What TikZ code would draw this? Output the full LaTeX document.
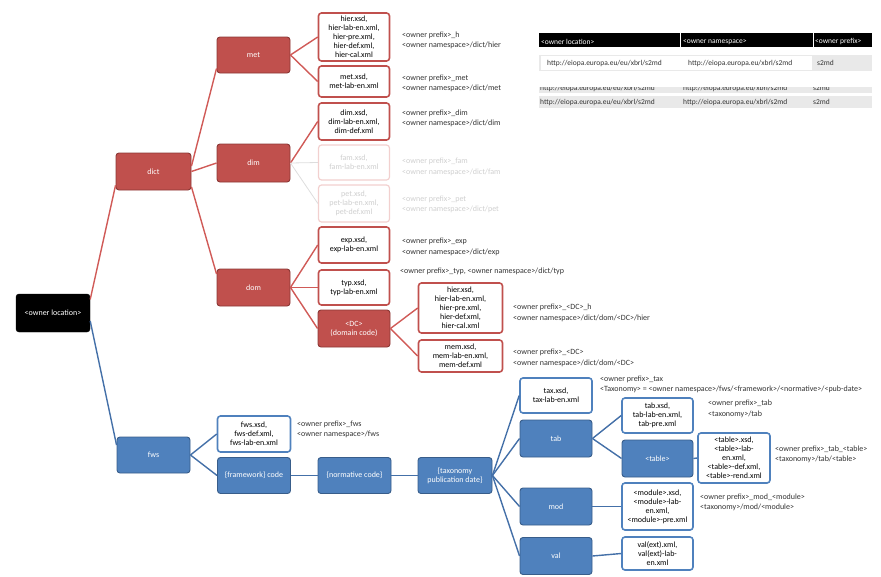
\documentclass[tikz,border=0pt]{standalone}
\usepackage{fontspec}
\setmainfont{Carlito}
\definecolor{rfill}{HTML}{C0504D}
\definecolor{rdraw}{HTML}{8C3836}
\definecolor{rline}{HTML}{D05A57}
\definecolor{bfill}{HTML}{4F81BD}
\definecolor{bdraw}{HTML}{385D8A}
\definecolor{bline}{HTML}{4470A8}
\definecolor{fadeb}{HTML}{F2D0CF}
\definecolor{fadet}{HTML}{CFCFCF}
\definecolor{lbltext}{HTML}{333333}
\definecolor{rowgray}{HTML}{E9E9E9}
\tikzset{
  base/.style={rectangle, rounded corners=3pt, minimum width=73pt, minimum height=36pt,
    inner sep=1pt, align=center, font=\fontsize{8}{9}\selectfont},
  redbox/.style={base, fill=rfill, draw=rdraw, line width=0.9pt, text=white},
  blubox/.style={base, fill=bfill, draw=bdraw, line width=0.9pt, text=white},
  rootbox/.style={base, fill=black, draw=black, text=white},
  wred/.style={base, fill=white, draw=rfill, line width=1.6pt, text=black, minimum width=71pt},
  wblue/.style={base, fill=white, draw=bfill, line width=1.6pt, text=black, minimum width=71pt},
  wfade/.style={base, fill=white, draw=fadeb, line width=1.2pt, text=fadet, minimum width=71pt},
  lbl/.style={anchor=west, align=left, inner sep=0pt, text=lbltext, font=\fontsize{8}{10.5}\selectfont},
  lblfade/.style={lbl, text=fadet},
  rl/.style={draw=rline, line width=1.4pt},
  bl/.style={draw=bline, line width=1.4pt},
  fl/.style={draw=fadet!70, line width=0.8pt},
  tbl/.style={anchor=west, inner sep=0pt, font=\fontsize{7.5}{9}\selectfont, text=lbltext},
  tblh/.style={tbl, text=white},
}
\begin{document}
\begin{tikzpicture}[x=1pt, y=-1pt]
\useasboundingbox (0,0) rectangle (881,576);

% ---------------- red (dict) branch ----------------
\node[rootbox, minimum height=38pt, minimum width=74pt] (root) at (53,313) {<owner location>};
\node[redbox, minimum height=37pt, minimum width=75pt] (dict) at (153.5,171.5) {dict};
\node[redbox] (met) at (253.5,55) {met};
\node[redbox, minimum height=38pt] (dim) at (253.5,163) {dim};
\node[redbox, minimum height=37pt] (dom) at (253.5,287.5) {dom};

\node[wred, minimum height=48pt] (hierm) at (354,37) {hier.xsd,\\hier-lab-en.xml,\\hier-pre.xml,\\hier-def.xml,\\hier-cal.xml};
\node[wred, minimum height=31pt] (metx) at (354,81.5) {met.xsd,\\met-lab-en.xml};
\node[wred, minimum height=37pt] (dimx) at (354,121.5) {dim.xsd,\\dim-lab-en.xml,\\dim-def.xml};
\node[wfade, minimum height=35pt] (fam) at (354,162.5) {fam.xsd,\\fam-lab-en.xml};
\node[wfade, minimum height=37pt] (pet) at (354,203.5) {pet.xsd,\\pet-lab-en.xml,\\pet-def.xml};
\node[wred, minimum height=36pt] (expx) at (354,245) {exp.xsd,\\exp-lab-en.xml};
\node[wred, minimum height=35pt] (typx) at (354,287.5) {typ.xsd,\\typ-lab-en.xml};
\node[redbox, minimum height=37pt, minimum width=72pt] (dc) at (354,328.5) {<DC>\\(domain code)};
\node[wred, minimum height=50pt, minimum width=84pt] (hierd) at (460.5,308) {hier.xsd,\\hier-lab-en.xml,\\hier-pre.xml,\\hier-def.xml,\\hier-cal.xml};
\node[wred, minimum height=32pt, minimum width=84pt] (memd) at (460.5,356) {mem.xsd,\\mem-lab-en.xml,\\mem-def.xml};

\node[lbl] (lhierm) at (402,40.5) {<owner prefix>\_h\\<owner namespace>/dict/hier};
\node[lbl] (lmet) at (402,83.5) {<owner prefix>\_met\\<owner namespace>/dict/met};
\node[lbl] (ldim) at (402,118.5) {<owner prefix>\_dim\\<owner namespace>/dict/dim};
\node[lblfade] (lfam) at (402,167) {<owner prefix>\_fam\\<owner namespace>/dict/fam};
\node[lblfade] (lpet) at (402,204.5) {<owner prefix>\_pet\\<owner namespace>/dict/pet};
\node[lbl] (lexp) at (402,247) {<owner prefix>\_exp\\<owner namespace>/dict/exp};
\node[lbl] (ltyp) at (400,271) {<owner prefix>\_typ, <owner namespace>/dict/typ};
\node[lbl] (lhierd) at (513,313) {<owner prefix>\_<DC>\_h\\<owner namespace>/dict/dom/<DC>/hier};
\node[lbl] (lmemd) at (513,358) {<owner prefix>\_<DC>\\<owner namespace>/dict/dom/<DC>};

\begin{scope}[on background layer/.style={}]
\end{scope}

% ---------------- blue (fws) branch ----------------
\node[blubox, minimum height=36pt] (fws) at (153.5,455) {fws};
\node[wblue, minimum height=36pt, minimum width=73pt] (fwsx) at (254,434) {fws.xsd,\\fws-def.xml,\\fws-lab-en.xml};
\node[blubox] (fw) at (254,475.5) {\{framework\} code};
\node[blubox] (norm) at (354.5,475.5) {\{normative code\}};
\node[blubox, minimum width=74pt] (tpd) at (455,475.5) {\{taxonomy\\publication date\}};
\node[wblue, minimum height=35pt, minimum width=72pt] (taxx) at (556,395.5) {tax.xsd,\\tax-lab-en.xml};
\node[blubox, minimum height=37pt, minimum width=72pt] (tab) at (556,438.5) {tab};
\node[blubox, minimum height=37pt, minimum width=72pt] (mod) at (556,506.5) {mod};
\node[blubox, minimum height=37pt, minimum width=72pt] (val) at (556,556) {val};
\node[wblue, minimum height=35pt] (tabx) at (657.5,415.5) {tab.xsd,\\tab-lab-en.xml,\\tab-pre.xml};
\node[blubox, minimum height=37pt, minimum width=71pt] (table) at (657.5,458.5) {<table>};
\node[wblue, minimum height=50pt, minimum width=72pt] (tablex) at (734,458) {<table>.xsd,\\<table>-lab-\\en.xml,\\<table>-def.xml,\\<table>-rend.xml};
\node[wblue, minimum height=47pt] (modx) at (657.5,506.5) {<module>.xsd,\\<module>-lab-\\en.xml,\\<module>-pre.xml};
\node[wblue, minimum height=33pt] (valx) at (657.5,553.5) {val(ext).xml,\\val(ext)-lab-\\en.xml};

\node[lbl] (lfws) at (297,429.5) {<owner prefix>\_fws\\<owner namespace>/fws};
\node[lbl] (ltax) at (600,384.5) {<owner prefix>\_tax\\<Taxonomy> = <owner namespace>/fws/<framework>/<normative>/<pub-date>};
\node[lbl] (ltab) at (708,409) {<owner prefix>\_tab\\<taxonomy>/tab};
\node[lbl] (ltable) at (775,454.5) {<owner prefix>\_tab\_<table>\\<taxonomy>/tab/<table>};
\node[lbl] (lmod) at (700,502.5) {<owner prefix>\_mod\_<module>\\<taxonomy>/mod/<module>};

% ---------------- connectors ----------------
\draw[rl] (root.20) -- (dict.200);
\draw[rl] (dict.8) -- (met.200);
\draw[rl] (dict.east) -- (dim.west);
\draw[rl] (dict.-22) -- (dom.160);
\draw[rl] (met.east) -- (hierm.west);
\draw[rl] (met.east) -- (metx.west);
\draw[rl] (dim.east) -- (dimx.west);
\draw[fl] (dim.east) -- (fam.west);
\draw[fl] (dim.east) -- (pet.west);
\draw[rl] (dom.east) -- (expx.west);
\draw[rl] (dom.east) -- (typx.west);
\draw[rl] (dom.east) -- (dc.west);
\draw[rl] (dc.east) -- (hierd.west);
\draw[rl] (dc.east) -- (memd.west);

\draw[bl] (root.-12) -- (fws.165);
\draw[bl] (fws.east) -- (fwsx.west);
\draw[bl] (fws.east) -- (fw.west);
\draw[bl] (fw.east) -- (norm.west);
\draw[bl] (norm.east) -- (tpd.west);
\draw[bl] (tpd.east) -- (taxx.west);
\draw[bl] (tpd.east) -- (tab.west);
\draw[bl] (tpd.east) -- (mod.west);
\draw[bl] (tpd.east) -- (val.west);
\draw[bl] (tab.east) -- (tabx.west);
\draw[bl] (tab.east) -- (table.west);
\draw[bl] (table.east) -- (tablex.west);
\draw[bl] (mod.east) -- (modx.west);
\draw[bl] (val.east) -- (valx.west);

% ---------------- table ----------------
\fill[black] (539,33) rectangle (872,47);
\draw[white, line width=0.8pt] (680,33) -- (680,47) (813,33) -- (813,47);
\node[tblh] (h1) at (541,42) {<owner location>};
\node[tblh] (h2) at (683,42) {<owner namespace>};
\node[tblh] (h3) at (815,42) {<owner prefix>};
\fill[rowgray] (539,55) rectangle (872,71);
\fill[white] (541,56) rectangle (812,70);
\node[tbl] (r1a) at (547,63) {http://eiopa.europa.eu/eu/xbrl/s2md};
\node[tbl] (r1b) at (688,63) {http://eiopa.europa.eu/xbrl/s2md};
\node[tbl] (r1c) at (817,63) {s2md};
\begin{scope}
\clip (539,87) rectangle (872,93);
\fill[rowgray] (539,87) rectangle (872,93);
\node[tbl] (r2a) at (540,88) {http://eiopa.europa.eu/eu/xbrl/s2md};
\node[tbl] (r2b) at (683,88) {http://eiopa.europa.eu/xbrl/s2md};
\node[tbl] (r2c) at (813,88) {s2md};
\end{scope}
\fill[rowgray] (539,96) rectangle (872,108);
\node[tbl] (r3a) at (540,102) {http://eiopa.europa.eu/eu/xbrl/s2md};
\node[tbl] (r3b) at (683,102) {http://eiopa.europa.eu/xbrl/s2md};
\node[tbl] (r3c) at (813,102) {s2md};
\end{tikzpicture}
\end{document}
